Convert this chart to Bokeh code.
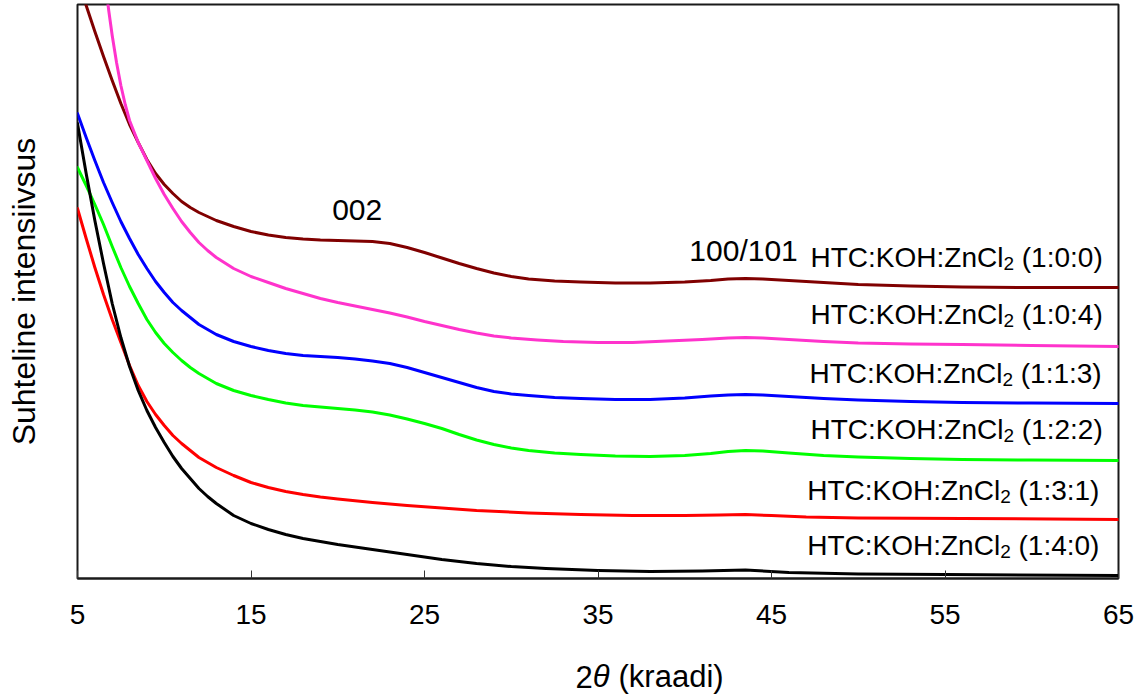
from bokeh.plotting import figure
from bokeh.models import Range1d, FixedTicker, Label
from bokeh.layouts import column
from bokeh.core.properties import value
from bokeh.embed import file_html
from bokeh.resources import INLINE

# ---------------- data (2theta in degrees, relative intensity in a.u.) ----------------
x_ticks = [5, 15, 25, 35, 45, 55, 65]
tick_labels = ["5", "15", "25", "35", "45", "55", "65"]

series_names = ["(1:0:0)", "(1:0:4)", "(1:1:3)", "(1:2:2)", "(1:3:1)", "(1:4:0)"]
series_colors = ["#800000", "#FF33CC", "#0000FF", "#00FF00", "#FF0000", "#000000"]

x_100 = [5.0, 5.5, 6.0, 6.5, 7.0, 7.5, 8.0, 8.5, 9.0, 9.5, 10.0, 10.5, 11.0, 11.5, 12.0, 13.0, 14.0,
         15.0, 16.0, 17.0, 18.0, 19.0, 20.0, 21.0, 22.0, 23.0, 24.0, 25.0, 26.0, 27.0, 28.0, 29.0,
         30.0, 31.0, 32.5, 34.0, 36.0, 38.0, 40.0, 41.5, 42.5, 43.5, 44.5, 46.0, 48.0, 50.0, 53.0,
         56.0, 60.0, 65.0]
y_100 = [600, 573, 547, 522, 498, 475, 454, 436, 419, 405, 394, 385, 377, 371, 366, 358, 352,
         347, 343.5, 341, 339.5, 338.5, 338, 337.5, 337, 335, 331, 326, 320.5, 315, 310, 305.5,
         302, 299.5, 297.5, 296.5, 295.5, 295.5, 296.5, 298, 299.5, 300, 299.5, 298, 296, 294, 292.5,
         291.5, 291, 291]

x_104 = [6.45, 6.6, 6.8, 7.0, 7.25, 7.5, 7.75, 8.0, 8.5, 9.0, 9.5, 10.0, 10.5, 11.0, 11.5, 12.0,
         12.5, 13.0, 14.0, 15.0, 16.0, 17.0, 18.0, 19.0, 20.0, 21.0, 22.0, 23.0, 24.0, 25.0, 26.0,
         27.0, 28.0, 29.0, 30.0, 31.5, 33.0, 35.0, 37.0, 39.0, 41.0, 42.5, 43.5, 44.5, 46.0, 48.0,
         50.0, 53.0, 56.0, 60.0, 65.0]
y_104 = [620, 596, 568, 543, 516, 493, 474, 458, 436, 418, 400, 384, 370, 357, 346, 336,
         328, 321, 310, 302, 296, 290, 285, 280, 276, 272.5, 269, 265.5, 261.5, 257, 253,
         249, 245.5, 242.5, 240.5, 238.5, 237, 236, 236, 237.5, 239, 240.5, 241, 240.5, 239, 237,
         235.5, 234.5, 234, 233, 232]

x_113 = [5.0, 5.5, 6.0, 6.5, 7.0, 7.5, 8.0, 8.5, 9.0, 9.5, 10.0, 10.5, 11.0, 11.5, 12.0, 13.0, 14.0,
         15.0, 16.0, 17.0, 18.0, 19.0, 20.0, 21.0, 22.0, 23.0, 24.0, 25.0, 26.0, 27.0, 28.0, 29.0,
         30.0, 31.0, 32.5, 34.0, 36.0, 38.0, 40.0, 41.5, 42.5, 43.5, 44.5, 46.0, 48.0, 50.0, 53.0,
         56.0, 60.0, 65.0]
y_113 = [465, 441, 418, 396, 376, 357, 340, 324, 310, 297, 286, 276, 268, 261, 254, 244, 237,
         232, 228, 225, 223, 222, 221, 219.5, 217.5, 215, 211, 206, 201, 196, 191, 187,
         184.5, 183, 181, 180, 179, 179, 180.5, 182.5, 183.5, 184, 183.5, 182, 180, 178.5, 177,
         176, 175.5, 175]

x_122 = [5.0, 5.5, 6.0, 6.5, 7.0, 7.5, 8.0, 8.5, 9.0, 9.5, 10.0, 10.5, 11.0, 11.5, 12.0, 13.0, 14.0,
         15.0, 16.0, 17.0, 18.0, 19.0, 20.0, 21.0, 22.0, 23.0, 24.0, 25.0, 26.0, 27.0, 28.0, 29.0,
         30.0, 31.0, 32.5, 34.0, 36.0, 38.0, 40.0, 41.5, 42.5, 43.5, 44.5, 46.0, 48.0, 50.0, 53.0,
         56.0, 60.0, 65.0]
y_122 = [411, 393, 374, 354, 332, 311, 292, 275, 259, 246, 235, 226, 218, 211, 205, 195, 188,
         183, 179, 175.5, 173, 171.5, 170, 168.5, 166.5, 163.5, 159.5, 155, 150, 144, 138.5, 134,
         130.5, 128, 125.5, 124, 122.5, 122, 123, 125, 127, 128, 127.5, 125.5, 123, 121.5, 120,
         119, 118.5, 118]

x_131 = [5.0, 5.5, 6.0, 6.5, 7.0, 7.5, 8.0, 8.5, 9.0, 9.5, 10.0, 10.5, 11.0, 11.5, 12.0, 13.0, 14.0,
         15.0, 16.0, 17.0, 18.0, 19.0, 20.0, 22.0, 24.0, 26.0, 28.0, 31.0, 34.0, 37.0, 40.0, 42.0,
         43.5, 45.0, 47.0, 50.0, 56.0, 65.0]
y_131 = [370, 340, 311, 284, 259, 236, 213, 193, 177, 164, 153, 143, 135, 128, 121, 111, 103,
         96, 91, 87, 84, 81.5, 79.5, 76, 73, 70.5, 68, 65.5, 64, 63, 63, 63.5,
         64, 63, 61.5, 60.5, 60, 59]

x_140 = [5.0, 5.5, 6.0, 6.5, 7.0, 7.5, 8.0, 8.5, 9.0, 9.5, 10.0, 10.5, 11.0, 11.5, 12.0, 12.5, 13.0,
         14.0, 15.0, 16.0, 17.0, 18.0, 19.0, 20.0, 22.0, 24.0, 26.0, 28.0, 30.0, 32.0, 35.0, 38.0,
         41.0, 43.5, 46.0, 50.0, 55.0, 65.0]
y_140 = [455, 405, 358, 315, 275, 241, 212, 188, 168, 151, 136, 122, 110, 100, 90, 82, 75,
         63, 55, 49, 44, 40, 37, 34, 29, 24, 19, 15, 12, 10, 8, 7,
         7.5, 8.5, 6, 4.5, 4, 3]

series_x = [x_100, x_104, x_113, x_122, x_131, x_140]
series_y = [y_100, y_104, y_113, y_122, y_131, y_140]

peak_labels = ["002", "100/101"]
peak_x = [21.12, 43.39]
peak_y = [359, 318]

# ---------------- layout ----------------
FONT = "Liberation Sans"
W = 1136
H1, H2 = 640, 54
BL, BR, BT, BB = 77, 18, 4, 62
LAB_DY = 10  # pixel nudge for label baselines

p = figure(width=W, height=H1, output_backend="svg", toolbar_location=None,
           x_range=Range1d(5, 65), y_range=Range1d(0, 574),
           min_border_left=BL, min_border_right=BR, min_border_top=BT, min_border_bottom=BB,
           background_fill_color="white", border_fill_color="white")

p.xgrid.visible = False
p.ygrid.visible = False
p.outline_line_color = "#1a1a1a"
p.outline_line_width = 2
p.outline_line_alpha = 1.0

ax = p.xaxis[0]
ax.ticker = FixedTicker(ticks=x_ticks)
ax.major_label_overrides = {t: s for t, s in zip(x_ticks, tick_labels)}
ax.axis_line_color = "#1a1a1a"
ax.axis_line_width = 2
ax.major_tick_in = 8
ax.major_tick_out = 0
ax.major_tick_line_color = "#333333"
ax.major_tick_line_width = 1
ax.minor_tick_line_color = None
ax.major_label_standoff = 26
ax.major_label_text_font = FONT
ax.major_label_text_font_size = "28px"
ax.major_label_text_color = "black"

ay = p.yaxis[0]
ay.ticker = FixedTicker(ticks=[])
ay.major_label_text_font_size = "0px"
ay.major_label_standoff = 0
ay.major_tick_in = 0
ay.major_tick_out = 0
ay.minor_tick_line_color = None
ay.axis_line_color = None
ay.axis_label = "Suhteline intensiivsus"
ay.axis_label_text_font = FONT
ay.axis_label_text_font_size = "32px"
ay.axis_label_text_font_style = "normal"
ay.axis_label_text_color = "black"
ay.axis_label_standoff = 36

for xs, ys, c in zip(series_x, series_y, series_colors):
    p.line(xs, ys, line_width=3, line_color=c, line_join="round", line_cap="round")


def lab(x, y, text, size, dy=0, **kw):
    p.add_layout(Label(x=x, y=y, text=text, text_font=FONT, text_font_size=f"{size}px",
                       text_color="black", y_offset=LAB_DY + dy, **kw))


# series labels: "HTC:KOH:ZnCl" + subscript 2 + " (a:b:c)"
lab_x = [47.25, 47.25, 47.19, 47.25, 47.06, 47.06]
lab_y = [311, 254, 195, 139, 78, 23]
FS = 28
main_w = 6.889 * FS
sub_fs = 19
sub_w = 0.556 * sub_fs
space_w = 0.278 * FS
for name, lx, ly in zip(series_names, lab_x, lab_y):
    lab(lx, ly, "HTC:KOH:ZnCl", FS, text_align="left", text_baseline="alphabetic")
    lab(lx, ly, "2", sub_fs, dy=-6, x_offset=main_w, text_align="left", text_baseline="alphabetic")
    lab(lx, ly, name, FS, x_offset=main_w + sub_w + space_w, text_align="left", text_baseline="alphabetic")

# peak labels
for t, px, py in zip(peak_labels, peak_x, peak_y):
    lab(px, py, t, 30, text_align="center", text_baseline="alphabetic")

# ---------------- x axis title strip: 2θ (kraadi) with italic theta ----------------
XF = 31
p2 = figure(width=W, height=H2, output_backend="svg", toolbar_location=None,
            x_range=Range1d(5, 65), y_range=Range1d(0, H2),
            x_axis_type=None, y_axis_type=None,
            min_border_left=BL, min_border_right=BR,
            min_border_top=0, min_border_bottom=0,
            background_fill_color="white", border_fill_color="white")
p2.outline_line_color = None
p2.grid.visible = False
x0 = 33.70          # left end of the title, in 2theta units (shared horizontal frame)
base_y = 18
p2.text(x=[x0], y=[base_y], text=["2"], text_font=value(FONT), text_font_size=f"{XF}px",
        text_color="black", text_align="left", text_baseline="alphabetic")
p2.text(x=[x0], y=[base_y], text=["θ"], x_offset=0.556 * XF, text_font=value(FONT),
        text_font_size=f"{XF}px", text_font_style="italic", text_color="black",
        text_align="left", text_baseline="alphabetic")
p2.text(x=[x0], y=[base_y], text=["(kraadi)"], x_offset=(2 * 0.556 + 0.278) * XF,
        text_font=value(FONT), text_font_size=f"{XF}px", text_color="black",
        text_align="left", text_baseline="alphabetic")

layout = column(p, p2, spacing=0)
open("out.html", "w").write(file_html(layout, INLINE))
